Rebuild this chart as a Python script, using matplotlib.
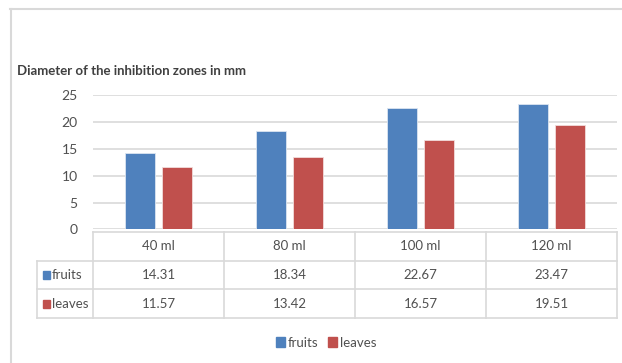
import matplotlib.pyplot as plt
from matplotlib.lines import Line2D
from matplotlib.patches import Patch, Rectangle

# data
volumes = ["40 ml", "80 ml", "100 ml", "120 ml"]
fruits = [14.31, 18.34, 22.67, 23.47]
leaves = [11.57, 13.42, 16.57, 19.51]
series_names = ["fruits", "leaves"]
y_ticks = [0, 5, 10, 15, 20, 25]

BLUE = "#4f81bd"
RED = "#c0504d"
GRID = "#d9d9d9"
TEXT = "#505050"

plt.rcParams["font.family"] = ["Lato", "DejaVu Sans"]

W, H = 622, 363
fig = plt.figure(figsize=(W / 100, H / 100), dpi=100)


def px_box(x0, y0, x1, y1):
    # pixel box (top-left origin) -> figure fraction rect
    return [x0 / W, 1 - y1 / H, (x1 - x0) / W, (y1 - y0) / H]


# outer frame (top and left edges only, the rest is cropped in the source)
fig.add_artist(Line2D([10 / W, 1], [1 - 9 / H] * 2, color=GRID, lw=1.5))
fig.add_artist(Line2D([11 / W] * 2, [0, 1 - 9 / H], color=GRID, lw=1.5))

fig.text(17 / W, 1 - 71 / H, "Diameter of the inhibition zones in mm",
         fontsize=9.5, fontweight="bold", color="#404040", va="center")

# bar chart
ax = fig.add_axes(px_box(93, 95.3, 617, 229.3))
x = range(len(volumes))
bw, gap = 0.229, 0.053
off = (bw + gap) / 2
ax.bar([i - off for i in x], fruits, width=bw, color=BLUE, edgecolor="#dbe5f1", lw=0.6, zorder=3)
ax.bar([i + off for i in x], leaves, width=bw, color=RED, edgecolor="#f2dcdb", lw=0.6, zorder=3)
ax.set_xlim(-0.5, len(volumes) - 0.5)
ax.set_ylim(0, 25)
ax.set_yticks(y_ticks)
ax.set_xticks([])
ax.grid(axis="y", color=GRID, lw=1.2, zorder=0)
for s in ax.spines.values():
    s.set_visible(False)
ax.tick_params(axis="y", length=0, pad=11, labelsize=10, labelcolor=TEXT)

# data table under the chart
tab = fig.add_axes(px_box(93, 232, 617, 318))
tab.set_xlim(-0.5, len(volumes) - 0.5)
tab.set_ylim(3, 0)
tab.axis("off")
lab_left = -0.5 - 56 / 131
kw = dict(color=GRID, lw=1.2, clip_on=False)
tab.plot([-0.5, 3.5], [0, 0], **kw)
for yy in (1, 2, 3):
    tab.plot([lab_left, 3.5], [yy, yy], **kw)
for xx in (-0.5, 0.5, 1.5, 2.5, 3.5):
    tab.plot([xx, xx], [0, 3], **kw)
tab.plot([lab_left, lab_left], [1, 3], **kw)

for i, v in enumerate(volumes):
    tab.text(i, 0.5, v, ha="center", va="center", fontsize=9.5, color=TEXT)
for r, (name, vals, col) in enumerate(zip(series_names, [fruits, leaves], [BLUE, RED])):
    yc = 1.5 + r
    for i, val in enumerate(vals):
        tab.text(i, yc, f"{val:.2f}", ha="center", va="center", fontsize=9.5, color=TEXT)
    sq_w = 7 / 131
    tab.add_patch(Rectangle((lab_left + 5.5 / 131, yc - 0.14), sq_w, 0.28,
                            color=col, clip_on=False))
    tab.text(lab_left + 15 / 131, yc, name, ha="left", va="center", fontsize=9.5, color=TEXT)

# legend
handles = [Patch(color=BLUE, label=series_names[0]), Patch(color=RED, label=series_names[1])]
fig.legend(handles=handles, loc="center", bbox_to_anchor=(326 / W, 1 - 343 / H), ncol=2,
           frameon=False, fontsize=9.5, labelcolor=TEXT, handlelength=0.7, handleheight=0.8,
           handletextpad=0.2, columnspacing=0.7)

fig.savefig("out.png", dpi=100)
